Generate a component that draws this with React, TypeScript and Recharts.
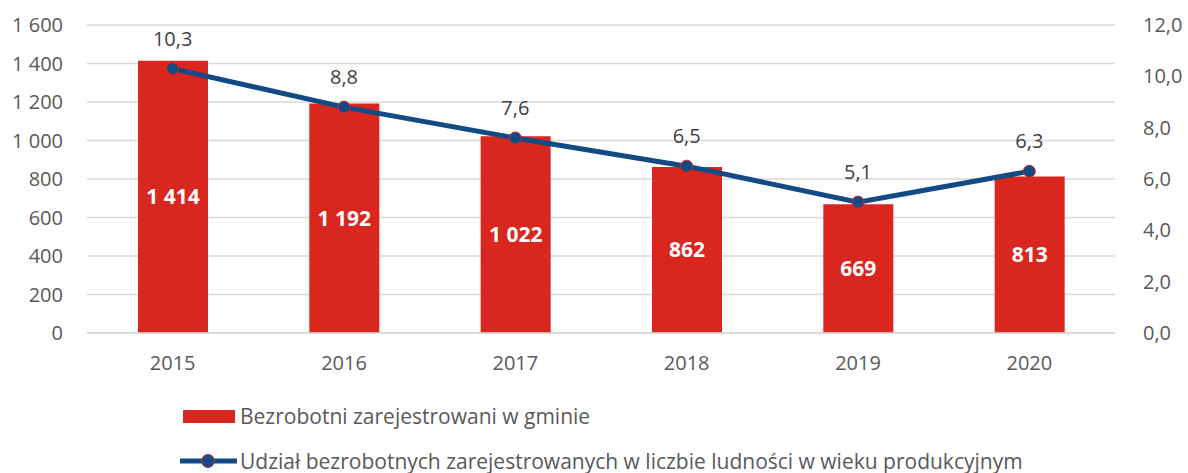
import React from "react";
import {
  ComposedChart,
  Bar,
  Line,
  XAxis,
  YAxis,
  CartesianGrid,
  LabelList,
} from "recharts";

const years = ["2015", "2016", "2017", "2018", "2019", "2020"];
const unemployed = [1414, 1192, 1022, 862, 669, 813];
const share = [10.3, 8.8, 7.6, 6.5, 5.1, 6.3];
const leftTicks = [0, 200, 400, 600, 800, 1000, 1200, 1400, 1600];
const rightTicks = [0, 2, 4, 6, 8, 10, 12];

const barName = "Bezrobotni zarejestrowani w gminie";
const lineName =
  "Udział bezrobotnych zarejestrowanych w liczbie ludności w wieku produkcyjnym";

const RED = "#d9261f";
const BLUE = "#124a85";
const TEXT = "#595959";
const FONT = "'Open Sans', sans-serif";

const data = years.map((y, i) => ({
  year: y,
  bezrobotni: unemployed[i],
  udzial: share[i],
}));

const fmtInt = (v: number) =>
  String(v).replace(/\B(?=(\d{3})+(?!\d))/g, " ");
const fmtDec = (v: number) => v.toFixed(1).replace(".", ",");

export default function App() {
  const tick = { fontSize: 20, fill: TEXT, fontFamily: FONT };
  return (
    <div
      style={{
        position: "absolute",
        left: 0,
        top: 0,
        width: 1188,
        height: 473,
        background: "#fff",
        fontFamily: FONT,
      }}
    >
      <ComposedChart
        width={1188}
        height={473}
        data={data}
        margin={{ top: 25, right: 0, bottom: 100, left: 0 }}
      >
        <CartesianGrid
          vertical={false}
          stroke="#d9d9d9"
          strokeWidth={1.5}
          yAxisId="left"
        />
        <XAxis
          dataKey="year"
          height={40}
          tick={tick}
          tickLine={false}
          tickSize={0}
          tickMargin={23}
          axisLine={{ stroke: "#d9d9d9", strokeWidth: 1.5 }}
        />
        <YAxis
          yAxisId="left"
          width={87}
          domain={[0, 1600]}
          ticks={leftTicks}
          tickFormatter={fmtInt}
          tick={tick}
          tickLine={false}
          tickSize={0}
          tickMargin={24}
          axisLine={false}
        />
        <YAxis
          yAxisId="right"
          orientation="right"
          width={73}
          domain={[0, 12]}
          ticks={rightTicks}
          tickFormatter={fmtDec}
          tick={tick}
          tickLine={false}
          tickSize={0}
          tickMargin={28}
          axisLine={false}
        />
        <Bar
          yAxisId="left"
          dataKey="bezrobotni"
          name={barName}
          fill={RED}
          barSize={70}
          isAnimationActive={false}
        >
          <LabelList
            dataKey="bezrobotni"
            position="center"
            formatter={(v: number) => fmtInt(v)}
            style={{
              fill: "#fff",
              fontSize: 21,
              fontWeight: 700,
              fontFamily: FONT,
            }}
          />
        </Bar>
        <Line
          yAxisId="right"
          dataKey="udzial"
          name={lineName}
          stroke={BLUE}
          strokeWidth={5}
          dot={{ r: 6, fill: BLUE, stroke: RED, strokeWidth: 1 }}
          activeDot={false}
          isAnimationActive={false}
        >
          <LabelList
            dataKey="udzial"
            position="top"
            offset={23}
            formatter={(v: number) => fmtDec(v)}
            style={{ fill: "#404040", fontSize: 20, fontFamily: FONT }}
          />
        </Line>
      </ComposedChart>
      <div
        style={{
          position: "absolute",
          left: 180,
          top: 402,
          color: TEXT,
          fontSize: 21,
          lineHeight: "28px",
        }}
      >
        <div style={{ display: "flex", alignItems: "center", height: 28 }}>
          <svg width={58} height={28} style={{ marginRight: 2 }}>
            <rect x={3} y={8} width={52} height={13} fill={RED} />
          </svg>
          <span>{barName}</span>
        </div>
        <div
          style={{
            display: "flex",
            alignItems: "center",
            height: 28,
            marginTop: 17,
          }}
        >
          <svg width={58} height={28} style={{ marginRight: 2 }}>
            <line x1={0} y1={14} x2={57} y2={14} stroke={BLUE} strokeWidth={5} />
            <circle cx={28} cy={14} r={6.5} fill={BLUE} stroke={RED} strokeWidth={1} />
          </svg>
          <span>{lineName}</span>
        </div>
      </div>
    </div>
  );
}
